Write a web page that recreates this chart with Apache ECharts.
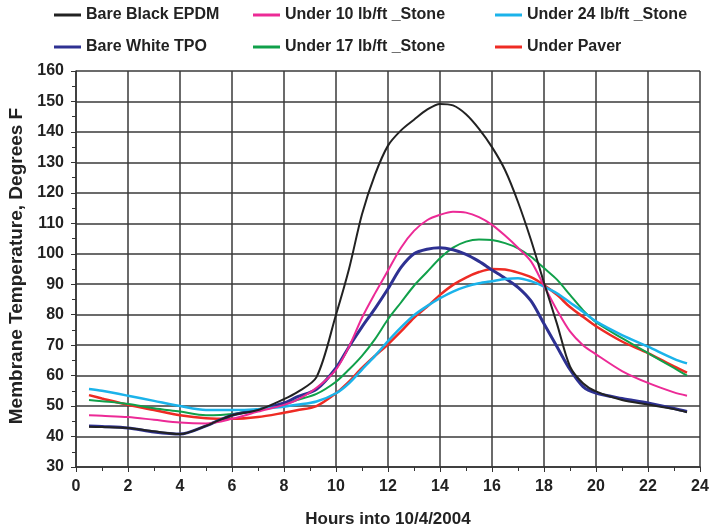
<!DOCTYPE html>
<html>
<head>
<meta charset="utf-8">
<script src="https://cdn.jsdelivr.net/npm/echarts@6/dist/echarts.min.js"></script>
<style>html,body{margin:0;padding:0;background:#fff}#c{width:712px;height:527px}</style>
</head>
<body>
<div id="c"></div>
<script>
const hours = [0.5,1,2,3,4,5,6,7,8,8.5,9.25,10,10.5,11,11.5,12,12.5,13,13.5,14,14.5,15,15.5,16,16.5,17,17.5,18,18.5,19,19.5,20,21,22,23,23.5];
const seriesNames = ["Bare Black EPDM","Under 10 lb/ft _Stone","Under 24 lb/ft _Stone","Bare White TPO","Under 17 lb/ft _Stone","Under Paver"];
const blackEPDM = [43.2,43.1,42.8,41.7,40.8,43.5,47,48.7,52.3,54.5,59.5,80,95,113,126,135.5,140.5,144,147.3,149.2,148.7,145.8,141,135,127.5,117,104.5,90.5,77,63,57.5,54.8,52,50.5,49,48];
const under10 = [47,46.8,46.4,45.5,44.6,44.3,45.8,48.2,50.4,52,56,62,69.5,79,87,94.5,102,107.5,111,112.8,113.8,113.5,112,109.5,106,102,97.5,89.5,81.5,74.5,70,67,61.5,57.6,54.5,53.4];
const under24 = [55.6,55,53.4,51.7,50,48.7,48.7,49,49.8,50.4,51.5,54.2,57.5,62,66.5,71.3,75.8,79.8,82.8,85.4,87.6,89.2,90.3,91,91.7,92,91,89.2,87,84,81,77.8,73.3,69.5,65.5,64];
const whiteTPO = [43.5,43.3,42.8,41.5,40.8,43.5,47,48.7,51,53,55.5,62.5,69.5,76,82,88.5,95.5,100,101.5,102,101.3,99.8,97.5,94.7,92,89,84.5,77,69.5,62,56.4,54.3,52.5,51,49.2,48.2];
const under17 = [52,51.6,50.7,49.3,48.2,47,47.4,49,50.5,52,54,58,62,66.5,72,78.5,84,89.5,94,98.5,102,104,104.7,104.5,103.5,101.8,99,95.3,91.5,86.5,81.5,77.5,72.3,67.4,62.5,60];
const underPaver = [53.6,52.5,50.4,48.7,47,46,45.8,46.4,47.8,48.6,50,54.2,58,62.5,66.5,70.3,74.5,79,82.6,86.5,89.8,92.2,94,95,94.8,93.8,92.3,89.7,86.5,82.5,79.3,76.2,71.2,67.4,63,61];

const values = [blackEPDM, under10, under24, whiteTPO, under17, underPaver];
const colors = ["#222222","#ec2a96","#1bb3ea","#2e3192","#10a04a","#ee2b24"];
const widths = [2,2,2.5,3,2,2.5];

const pair = arr => hours.map((h,i)=>[h,arr[i]]);
const font = "'Liberation Sans', Arial, sans-serif";
const legendText = {fontFamily: font, fontWeight: 'bold', fontSize: 16, color: '#222'};
const mkLegend = (names, left, top) => ({
  data: names, left: left, top: top, orient: 'horizontal',
  icon: 'rect', itemWidth: 27, itemHeight: 3, itemGap: 0, padding: 0,
  textStyle: legendText, selectedMode: false
});

const chart = echarts.init(document.getElementById('c'), null, {renderer: 'canvas'});
chart.setOption({
  animation: false,
  backgroundColor: '#fff',
  grid: {left: 76, right: 12, top: 71, bottom: 60, containLabel: false, outerBoundsMode: 'none'},
  legend: [
    mkLegend([seriesNames[0]], 54, 7),
    mkLegend([seriesNames[1]], 253, 7),
    mkLegend([seriesNames[2]], 495, 7),
    mkLegend([seriesNames[3]], 54, 39),
    mkLegend([seriesNames[4]], 253, 39),
    mkLegend([seriesNames[5]], 495, 39)
  ],
  graphic: [{
    type: 'text', x: 17, y: 266, rotation: Math.PI / 2,
    style: {text: 'Membrane Temperature, Degrees F', fontFamily: font, fontWeight: 'bold', fontSize: 19, fill: '#222', align: 'center', verticalAlign: 'middle'}
  }],
  xAxis: {
    type: 'value', min: 0, max: 24, interval: 2,
    name: 'Hours into 10/4/2004', nameLocation: 'middle', nameGap: 44,
    nameTextStyle: {fontFamily: font, fontWeight: 'bold', fontSize: 17, color: '#222'},
    axisLine: {show: true, lineStyle: {color: '#333', width: 1.5}},
    axisTick: {show: true, length: 5, lineStyle: {color: '#333', width: 1}},
    minorTick: {show: true, splitNumber: 2, length: 4, lineStyle: {color: '#333'}},
    axisLabel: {fontFamily: font, fontWeight: 'bold', fontSize: 16, color: '#222', margin: 12},
    splitLine: {show: true, lineStyle: {color: '#3a3a3a', width: 1.5}}
  },
  yAxis: {
    type: 'value', min: 30, max: 160, interval: 10,
    axisLine: {show: true, lineStyle: {color: '#333', width: 1.5}},
    axisTick: {show: true, length: 5, lineStyle: {color: '#333'}},
    minorTick: {show: true, splitNumber: 2, length: 4, lineStyle: {color: '#333'}},
    axisLabel: {fontFamily: font, fontWeight: 'bold', fontSize: 16, color: '#222', margin: 12},
    splitLine: {show: true, lineStyle: {color: '#3a3a3a', width: 1.5}}
  },
  series: seriesNames.map((n,i)=>({
    name: n, type: 'line', data: pair(values[i]), showSymbol: false, smooth: 0.3,
    color: colors[i], lineStyle: {color: colors[i], width: widths[i]}, z: 10 - i
  }))
});
</script>
</body>
</html>
